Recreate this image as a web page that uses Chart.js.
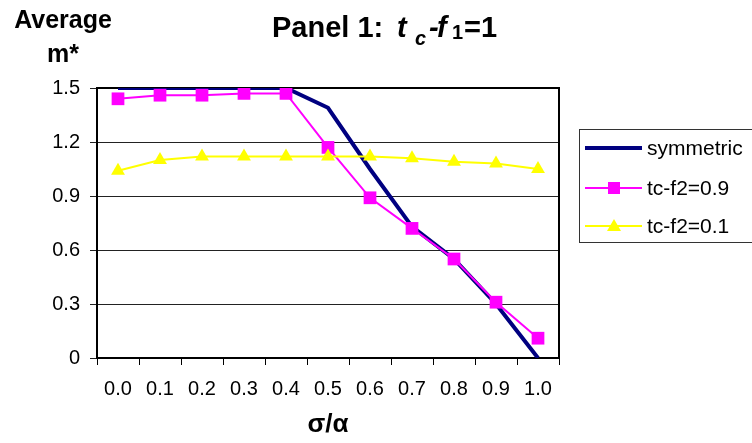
<!DOCTYPE html>
<html>
<head>
<meta charset="utf-8">
<script src="https://cdn.jsdelivr.net/npm/chart.js@4.4.1/dist/chart.umd.min.js"></script>
<style>
  body { margin: 0; background: #fff; }
  #wrap { width: 752px; height: 443px; }
</style>
</head>
<body>
<div id="wrap"><canvas id="panel1" width="752" height="443"></canvas></div>
<script>
// sigma/alpha categories
var ratios = ['0.0', '0.1', '0.2', '0.3', '0.4', '0.5', '0.6', '0.7', '0.8', '0.9', '1.0'];

// average m* per series
var symmetric = [1.5, 1.5, 1.5, 1.5, 1.5, 1.39, 1.05, 0.73, 0.55, 0.30, 0];
var tcf2_09 = [1.44, 1.46, 1.46, 1.47, 1.47, 1.17, 0.89, 0.72, 0.55, 0.31, 0.11];
var tcf2_01 = [1.04, 1.10, 1.12, 1.12, 1.12, 1.12, 1.12, 1.11, 1.09, 1.08, 1.05];

var yTickLabels = ['0', '0.3', '0.6', '0.9', '1.2', '1.5'];

var FONT = '"Liberation Sans", Arial, sans-serif';
Chart.defaults.font.family = FONT;
Chart.defaults.color = '#000';

// title, y label, plot frame and the boxed legend (Excel style)
const decorations = {
  id: 'decorations',
  beforeDatasetsDraw(chart) {
    const ctx = chart.ctx;
    const a = chart.chartArea;
    ctx.save();
    ctx.strokeStyle = '#000';
    ctx.lineWidth = 2;
    ctx.beginPath();
    ctx.moveTo(a.left, a.top);
    ctx.lineTo(a.right, a.top);
    ctx.lineTo(a.right, a.bottom);
    ctx.stroke();
    ctx.restore();
  },
  afterDraw(chart) {
    const ctx = chart.ctx;
    ctx.save();
    ctx.fillStyle = '#000';
    ctx.textBaseline = 'alphabetic';

    // y axis title
    ctx.font = 'bold 25px ' + FONT;
    ctx.textAlign = 'center';
    ctx.fillText('Average', 63, 28);
    ctx.fillText('m*', 63, 62);

    // main title with italic/subscript parts
    ctx.textAlign = 'left';
    var base = 37;
    var parts = [
      ['Panel 1:', 'bold 29px ', 272, 0],
      ['t', 'italic bold 29px ', 397, 0],
      ['c', 'italic bold 20px ', 415, 8],
      ['-', 'italic bold 29px ', 429, 0],
      ['f', 'italic bold 29px ', 437, 0],
      ['1', 'bold 20px ', 452, 2],
      ['=1', 'bold 29px ', 464, 0]
    ];
    parts.forEach(function (p) {
      ctx.font = p[1] + FONT;
      ctx.fillText(p[0], p[2], base + p[3]);
    });

    // legend
    var lx = 579, ly = 129;
    ctx.strokeStyle = '#333';
    ctx.lineWidth = 1;
    ctx.strokeRect(lx + 0.5, ly + 0.5, 200, 113);
    var rows = [
      ['symmetric', '#000080', 4, null, 148],
      ['tc-f2=0.9', '#FF00FF', 2, 'rect', 188],
      ['tc-f2=0.1', '#FFFF00', 2, 'triangle', 226]
    ];
    ctx.font = '21px ' + FONT;
    ctx.textBaseline = 'middle';
    rows.forEach(function (r) {
      var y = r[4];
      ctx.strokeStyle = r[1];
      ctx.lineWidth = r[2];
      ctx.beginPath();
      ctx.moveTo(585, y);
      ctx.lineTo(642, y);
      ctx.stroke();
      ctx.fillStyle = r[1];
      if (r[3] === 'rect') {
        ctx.fillRect(608, y - 6, 12, 12);
      } else if (r[3] === 'triangle') {
        ctx.beginPath();
        ctx.moveTo(614, y - 7);
        ctx.lineTo(621, y + 5);
        ctx.lineTo(607, y + 5);
        ctx.closePath();
        ctx.fill();
      }
      ctx.fillStyle = '#000';
      ctx.fillText(r[0], 647, y + 1);
    });
    ctx.restore();
  }
};

const ctx_panel = document.getElementById('panel1');

var chart_panel = new Chart(ctx_panel, {
  type: 'line',
  data: {
    labels: ratios,
    datasets: [{
      label: 'symmetric',
      data: symmetric,
      borderColor: '#000080',
      borderWidth: 4,
      pointRadius: 0,
      order: 3
    }, {
      label: 'tc-f2=0.9',
      data: tcf2_09,
      borderColor: '#FF00FF',
      backgroundColor: '#FF00FF',
      borderWidth: 2,
      pointStyle: 'rect',
      pointRadius: 9,
      pointBorderWidth: 0,
      pointBackgroundColor: '#FF00FF',
      order: 2
    }, {
      label: 'tc-f2=0.1',
      data: tcf2_01,
      borderColor: '#FFFF00',
      backgroundColor: '#FFFF00',
      borderWidth: 2,
      pointStyle: 'triangle',
      pointRadius: 8,
      pointBorderWidth: 0,
      pointBackgroundColor: '#FFFF00',
      order: 1
    }]
  },
  options: {
    responsive: false,
    animation: false,
    layout: {
      padding: { top: 88, right: 193, bottom: 0, left: 0 }
    },
    scales: {
      x: {
        offset: true,
        afterFit: function (s) { s.height = 85; },
        grid: {
          offset: true,
          drawOnChartArea: false,
          tickLength: 7,
          color: '#000'
        },
        border: { color: '#000', width: 2 },
        ticks: {
          padding: 12,
          font: { size: 20 },
          maxRotation: 0,
          autoSkip: false
        },
        title: {
          display: true,
          text: 'σ/α',
          font: { size: 26, weight: 'bold' },
          padding: { top: 0, bottom: 3 }
        }
      },
      y: {
        min: 0,
        max: 1.5,
        afterFit: function (s) { s.width = 97; },
        grid: {
          color: '#222',
          tickLength: 7
        },
        border: { color: '#000', width: 2 },
        ticks: {
          stepSize: 0.3,
          padding: 10,
          font: { size: 20 },
          callback: function (value, index) {
            return yTickLabels[index];
          }
        }
      }
    },
    plugins: {
      legend: { display: false },
      title: { display: false },
      tooltip: { enabled: false }
    }
  },
  plugins: [decorations]
});
</script>
</body>
</html>
